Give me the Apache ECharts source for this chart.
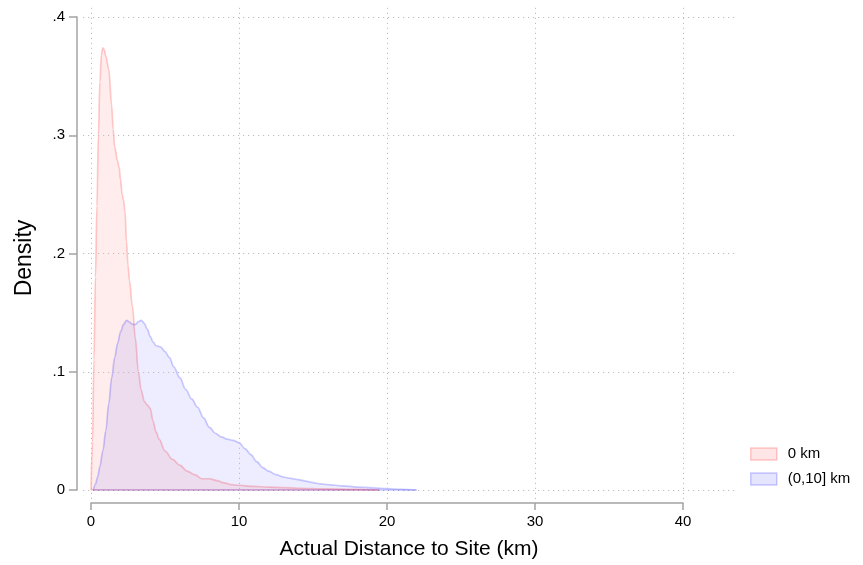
<!DOCTYPE html>
<html>
<head>
<meta charset="utf-8">
<script src="https://cdn.jsdelivr.net/npm/echarts@6/dist/echarts.min.js"></script>
<style>
html,body{margin:0;padding:0;background:#fff;}
#chart{width:863px;height:565px;}
</style>
</head>
<body>
<div id="chart"></div>
<script>
// ---- data ----
const seriesNames = ['0 km', '(0,10] km'];

// "0 km" density curve
const distA = [0, 0.1, 0.2, 0.3, 0.4, 0.5, 0.6, 0.7, 0.8, 0.9, 1.0, 1.2, 1.4, 1.5, 1.6, 1.8, 1.9, 2.0, 2.1, 2.2, 2.3, 2.4, 2.5, 2.6, 2.8, 3.0, 3.2, 3.4, 3.6, 3.8, 4.0, 4.2, 4.4, 4.6, 5.0, 5.5, 6.0, 6.5, 7.0, 7.5, 8.0, 8.5, 9.0, 9.5, 10, 11, 12, 13, 14, 16, 18, 19.5];
const densA = [0, 0.04, 0.11, 0.18, 0.24, 0.30, 0.345, 0.368, 0.374, 0.372, 0.367, 0.356, 0.325, 0.305, 0.29, 0.278, 0.273, 0.262, 0.250, 0.245, 0.235, 0.21, 0.19, 0.177, 0.155, 0.128, 0.10, 0.084, 0.075, 0.072, 0.069, 0.058, 0.049, 0.043, 0.033, 0.026, 0.021, 0.016, 0.013, 0.0095, 0.0095, 0.008, 0.006, 0.0045, 0.004, 0.003, 0.0025, 0.002, 0.0015, 0.001, 0.0005, 0];

// "(0,10] km" density curve
const distB = [0.16, 0.3, 0.45, 0.6, 0.8, 1.0, 1.2, 1.4, 1.6, 1.8, 2.0, 2.2, 2.4, 2.6, 2.8, 3.0, 3.2, 3.4, 3.6, 3.8, 4.0, 4.2, 4.4, 4.7, 5.0, 5.3, 5.6, 6.0, 6.4, 6.8, 7.2, 7.6, 8.0, 8.4, 8.8, 9.2, 9.6, 10.0, 10.4, 10.8, 11.2, 11.6, 12.0, 12.5, 13.0, 13.5, 14.0, 14.5, 15.0, 15.5, 16, 17, 18, 19, 20, 21, 22];
const densB = [0, 0.005, 0.011, 0.02, 0.033, 0.05, 0.073, 0.095, 0.112, 0.124, 0.134, 0.140, 0.1435, 0.142, 0.140, 0.140, 0.1425, 0.1435, 0.141, 0.136, 0.130, 0.125, 0.122, 0.121, 0.117, 0.112, 0.104, 0.095, 0.085, 0.077, 0.070, 0.061, 0.053, 0.048, 0.045, 0.043, 0.042, 0.040, 0.035, 0.030, 0.024, 0.019, 0.016, 0.013, 0.011, 0.0098, 0.0088, 0.0075, 0.0062, 0.0052, 0.0045, 0.0035, 0.0025, 0.0018, 0.0012, 0.0005, 0];

const xTicks = [0, 10, 20, 30, 40];
const yTicks = [0, 0.1, 0.2, 0.3, 0.4];
const yTickLabels = ['0', '.1', '.2', '.3', '.4'];
const xTitle = 'Actual Distance to Site (km)';
const yTitle = 'Density';

// ---- build ----
const pairsA = distA.map((x, i) => [x, densA[i]]);
const pairsB = distB.map((x, i) => [x, densB[i]]);

const FONT = '"Liberation Sans", Arial, Helvetica, sans-serif';
const AX = '#a3a3a3';
const fills = ['rgba(255,0,0,0.10)', 'rgba(0,0,255,0.10)'];
const lines = ['rgba(255,0,0,0.20)', 'rgba(0,0,255,0.20)'];

const gridLineData = xTicks.map(v => ({ xAxis: v })).concat(yTicks.map(v => ({ yAxis: v })));

function densitySeries(idx, pairs) {
  return {
    name: seriesNames[idx],
    type: 'line',
    xAxisIndex: 0, yAxisIndex: 0,
    data: pairs,
    smooth: 0.35,
    smoothMonotone: 'x',
    showSymbol: false,
    symbol: 'none',
    clip: false,
    z: 3 + idx,
    itemStyle: { color: fills[idx], borderColor: lines[idx], borderWidth: 1.5 },
    lineStyle: { color: lines[idx], width: 1.7 },
    areaStyle: { color: fills[idx], origin: 'start' },
    markLine: {
      silent: true, symbol: 'none', label: { show: false },
      lineStyle: { color: lines[idx], width: 1.7, type: 'solid' },
      data: [[{ coord: [pairs[0][0], 0] }, { coord: [pairs[pairs.length - 1][0], 0] }]]
    }
  };
}

const chart = echarts.init(document.getElementById('chart'), null, { renderer: 'canvas' });
chart.setOption({
  animation: false,
  backgroundColor: '#ffffff',
  textStyle: { fontFamily: FONT },
  grid: [
    { left: 91, top: 17, width: 592, height: 473, containLabel: false },
    { left: 83, top: 5, right: 128, bottom: 66, containLabel: false }
  ],
  xAxis: [
    {
      gridIndex: 0, type: 'value', min: 0, max: 40, interval: 10,
      offset: 13,
      axisLine: { show: true, onZero: false, lineStyle: { color: AX, width: 1.5 } },
      axisTick: { show: true, length: 7, inside: false, lineStyle: { color: AX, width: 1.5 } },
      axisLabel: { show: true, margin: 11, color: '#000', fontSize: 15, fontFamily: FONT },
      splitLine: { show: false }
    },
    {
      gridIndex: 1, type: 'value', min: -8 / 14.8, max: 40 + 52 / 14.8,
      axisLine: { show: false }, axisTick: { show: false }, axisLabel: { show: false },
      splitLine: { show: false },
      name: xTitle, nameLocation: 'middle', nameGap: 40,
      nameTextStyle: { color: '#000', fontSize: 21, fontFamily: FONT }
    }
  ],
  yAxis: [
    {
      gridIndex: 0, type: 'value', min: 0, max: 0.4, interval: 0.1,
      offset: 14,
      axisLine: { show: true, onZero: false, lineStyle: { color: AX, width: 1.5 } },
      axisTick: { show: true, length: 8, inside: false, lineStyle: { color: AX, width: 1.5 } },
      axisLabel: {
        show: true, margin: 12, color: '#000', fontSize: 15, fontFamily: FONT,
        formatter: v => yTickLabels[Math.round(v * 10)]
      },
      splitLine: { show: false }
    },
    {
      gridIndex: 1, type: 'value', min: -9 / 1182.5, max: 0.4 + 12 / 1182.5,
      axisLine: { show: false }, axisTick: { show: false }, axisLabel: { show: false },
      splitLine: { show: false },
      name: yTitle, nameLocation: 'middle', nameGap: 47, nameRotate: 90,
      nameTextStyle: { color: '#000', fontSize: 23, fontFamily: FONT, padding: [0, 12, 0, 0] }
    }
  ],
  legend: {
    orient: 'vertical',
    left: 750, top: 446,
    padding: 0,
    itemWidth: 26, itemHeight: 12, itemGap: 9,
    textStyle: { fontSize: 15, color: '#000', fontFamily: FONT, lineHeight: 16, padding: [0, 0, 0, 6] },
    data: seriesNames.map((n, i) => ({
      name: n, icon: 'rect',
      itemStyle: { color: fills[i], borderColor: lines[i], borderWidth: 1.5 }
    }))
  },
  series: [
    {
      type: 'line', xAxisIndex: 1, yAxisIndex: 1,
      data: [[0, 0]], symbol: 'none', silent: true,
      lineStyle: { opacity: 0 }, z: 1,
      markLine: {
        silent: true, symbol: 'none', label: { show: false },
        lineStyle: { color: '#bdbdbd', width: 1, type: [1.2, 3.8] },
        data: gridLineData
      }
    },
    densitySeries(0, pairsA),
    densitySeries(1, pairsB)
  ]
});
</script>
</body>
</html>
